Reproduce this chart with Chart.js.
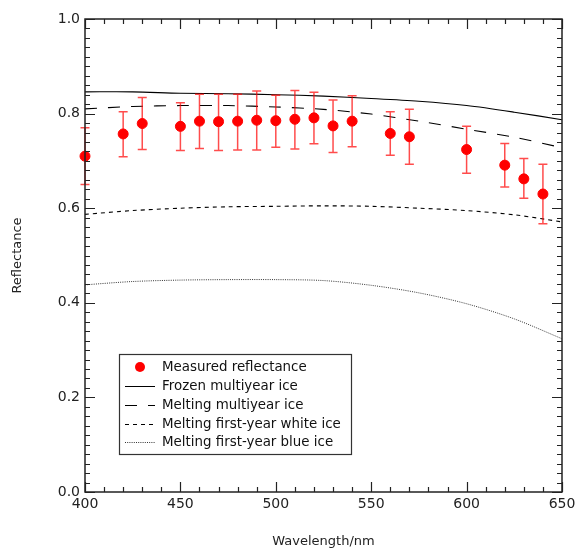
<!DOCTYPE html>
<html>
<head>
<meta charset="utf-8">
<script src="https://cdn.jsdelivr.net/npm/chart.js@4/dist/chart.umd.min.js"></script>
<style>
html,body{margin:0;padding:0;background:#fff;}
#wrap{width:576px;height:550px;position:relative;}
</style>
</head>
<body>
<div id="wrap"><canvas id="c" width="576" height="550"></canvas></div>
<script>
// Measured data
const wavelengths = [400,420,430,450,460,470,480,490,500,510,520,530,540,560,570,600,620,630,640];
const measured    = [0.710,0.757,0.779,0.773,0.784,0.783,0.784,0.786,0.785,0.788,0.791,0.774,0.784,0.758,0.751,0.724,0.691,0.662,0.630];
const errHigh     = [0.770,0.804,0.834,0.823,0.841,0.841,0.841,0.848,0.839,0.849,0.845,0.829,0.838,0.804,0.809,0.773,0.737,0.705,0.693];
const errLow      = [0.650,0.709,0.724,0.722,0.726,0.722,0.723,0.723,0.729,0.725,0.736,0.718,0.730,0.712,0.693,0.674,0.645,0.621,0.567];

// Model curves
const modelWl        = [400,425,450,475,500,525,550,575,600,625,650];
const frozenMY       = [0.846,0.846,0.843,0.842,0.840,0.837,0.832,0.826,0.817,0.803,0.787];
const meltingMY      = [0.810,0.815,0.817,0.817,0.814,0.809,0.799,0.784,0.767,0.750,0.728];
const meltingFYWhite = [0.587,0.595,0.600,0.603,0.604,0.605,0.604,0.600,0.595,0.586,0.571];
const meltingFYBlue  = [0.438,0.445,0.448,0.449,0.449,0.447,0.437,0.421,0.398,0.366,0.324];

const xTicks = [400,450,500,550,600,650];
const yTicks = [0.0,0.2,0.4,0.6,0.8,1.0];

const legendLabels = ["Measured reflectance","Frozen multiyear ice","Melting multiyear ice","Melting first-year white ice","Melting first-year blue ice"];

const FONT = "'DejaVu Sans', sans-serif";

function pts(xs, ys){ return xs.map((x,i)=>({x:x,y:ys[i]})); }

const errorBarPlugin = {
  id:'errbars',
  beforeDatasetDraw(chart, args){
    if(args.index !== 0) return;
    const ctx = chart.ctx, xs = chart.scales.x, ys = chart.scales.y;
    ctx.save();
    ctx.strokeStyle = 'rgba(255,0,0,0.7)';
    ctx.lineWidth = 1.5;
    for(let i=0;i<wavelengths.length;i++){
      const px = xs.getPixelForValue(wavelengths[i]);
      const top = ys.getPixelForValue(errHigh[i]);
      const bot = ys.getPixelForValue(errLow[i]);
      ctx.beginPath();
      ctx.moveTo(px, top); ctx.lineTo(px, bot);
      ctx.moveTo(px-4.5, top); ctx.lineTo(px+4.5, top);
      ctx.moveTo(px-4.5, bot); ctx.lineTo(px+4.5, bot);
      ctx.stroke();
    }
    ctx.restore();
  }
};

const framePlugin = {
  id:'frame',
  afterDatasetsDraw(chart){
    const ctx = chart.ctx, xs = chart.scales.x, ys = chart.scales.y;
    const a = chart.chartArea;
    ctx.save();
    ctx.strokeStyle = '#222';
    ctx.lineWidth = 1.5;
    ctx.strokeRect(a.left, a.top, a.right-a.left, a.bottom-a.top);
    ctx.lineWidth = 1.2;
    ctx.beginPath();
    for(let v=400; v<=650; v+=10){
      const major = (v % 50 === 0);
      const L = major ? 10 : 5;
      const px = Math.round(xs.getPixelForValue(v))+0.5;
      ctx.moveTo(px, a.bottom); ctx.lineTo(px, a.bottom-L);
      ctx.moveTo(px, a.top); ctx.lineTo(px, a.top+L);
    }
    for(let k=0; k<=50; k++){
      const v = k/50;
      const major = (k % 10 === 0);
      const L = major ? 10 : 5;
      const py = Math.round(ys.getPixelForValue(v))+0.5;
      ctx.moveTo(a.left, py); ctx.lineTo(a.left+L, py);
      ctx.moveTo(a.right, py); ctx.lineTo(a.right-L, py);
    }
    ctx.stroke();

    // legend
    const bx = 119.5, by = 354.5, bw = 232, bh = 100;
    ctx.fillStyle = '#fff';
    ctx.fillRect(bx, by, bw, bh);
    ctx.strokeStyle = '#333';
    ctx.lineWidth = 1.2;
    ctx.strokeRect(bx, by, bw, bh);
    ctx.font = "13.4px " + FONT;
    ctx.textBaseline = 'middle';
    const rows = [367, 386, 405, 424, 442];
    const dashes = [null, [], [12,11], [4,4], [1,1.2]];
    rows.forEach((ry, i) => {
      ctx.fillStyle = '#111';
      ctx.fillText(legendLabels[i], 162, ry+1);
      if(i === 0){
        ctx.fillStyle = '#ff0000';
        ctx.beginPath(); ctx.arc(140, ry, 5, 0, Math.PI*2); ctx.fill();
      } else {
        ctx.strokeStyle = i===4 ? '#333' : '#000';
        ctx.lineWidth = 1;
        ctx.setLineDash(dashes[i]);
        ctx.beginPath(); ctx.moveTo(125, ry+0.5); ctx.lineTo(155, ry+0.5); ctx.stroke();
        ctx.setLineDash([]);
      }
    });
    ctx.restore();
  }
};

new Chart(document.getElementById('c'), {
  type:'scatter',
  data:{
    datasets:[
      {label:legendLabels[0], data:pts(wavelengths, measured), backgroundColor:'#ff0000', borderColor:'#ff0000', pointRadius:5, pointHoverRadius:5, showLine:false, clip:false},
      {label:legendLabels[1], data:pts(modelWl, frozenMY), type:'line', borderColor:'#000', borderWidth:1.1, pointRadius:0, fill:false, tension:0.3},
      {label:legendLabels[2], data:pts(modelWl, meltingMY), type:'line', borderColor:'#000', borderWidth:1.1, borderDash:[12,11], pointRadius:0, fill:false, tension:0.3},
      {label:legendLabels[3], data:pts(modelWl, meltingFYWhite), type:'line', borderColor:'#000', borderWidth:1.1, borderDash:[4,4], pointRadius:0, fill:false, tension:0.3},
      {label:legendLabels[4], data:pts(modelWl, meltingFYBlue), type:'line', borderColor:'#333', borderWidth:1, borderDash:[1,1.2], pointRadius:0, fill:false, tension:0.3}
    ]
  },
  options:{
    responsive:false,
    animation:false,
    devicePixelRatio:1,
    layout:{padding:{top:19, right:14, left:0, bottom:0}},
    plugins:{legend:{display:false}, tooltip:{enabled:false}},
    scales:{
      x:{
        type:'linear', min:400, max:650,
        afterBuildTicks(s){ s.ticks = xTicks.map(v=>({value:v})); },
        afterFit(s){ s.height = 58; s.paddingRight = 0; },
        grid:{display:false, drawTicks:false},
        border:{display:false},
        ticks:{color:'#222', font:{family:FONT, size:14}, padding:4, maxRotation:0, callback:v=>String(v)},
        title:{display:true, text:'Wavelength/nm', color:'#222', font:{family:FONT, size:13}, padding:{top:14, bottom:1}}
      },
      y:{
        type:'linear', min:0, max:1,
        afterBuildTicks(s){ s.ticks = yTicks.map(v=>({value:v})); },
        afterFit(s){ s.width = 85; },
        grid:{display:false, drawTicks:false},
        border:{display:false},
        ticks:{color:'#222', font:{family:FONT, size:14}, padding:5, callback:v=>Number(v).toFixed(1)},
        title:{display:true, text:'Reflectance', color:'#222', font:{family:FONT, size:13}, padding:{top:10, bottom:0}}
      }
    }
  },
  plugins:[errorBarPlugin, framePlugin]
});
</script>
</body>
</html>
